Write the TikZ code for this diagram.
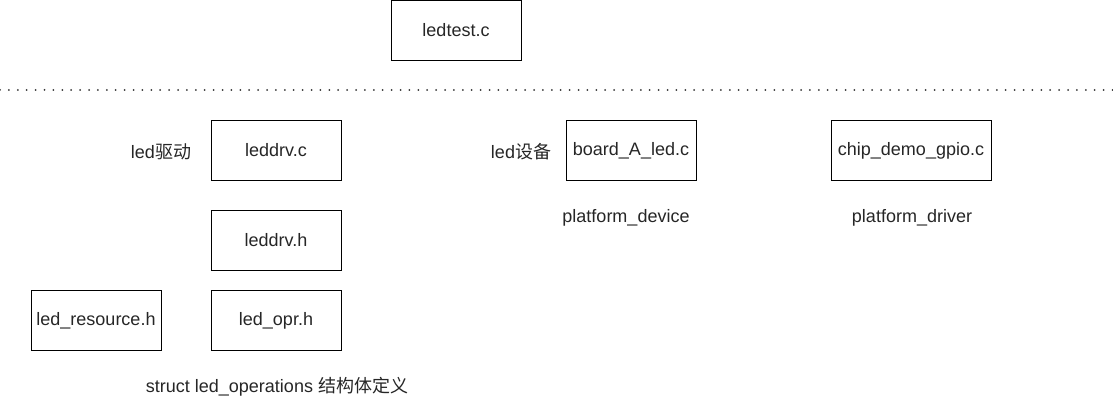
\documentclass[tikz,border=0pt]{standalone}
\usepackage{fontspec}
\setmainfont{Liberation Sans}
\newfontfamily\cjk{Noto Sans CJK SC}
\begin{document}
\begin{tikzpicture}[x=1pt,y=-1pt,
  box/.style={draw=black,line width=1pt,minimum width=130pt,minimum height=60pt,inner sep=0pt,text=black!85,font=\fontsize{18}{21}\selectfont},
  lbl/.style={inner sep=0pt,text=black!85,font=\fontsize{18}{21}\selectfont}]
\useasboundingbox (0,0) rectangle (1113,401);
\node[box] (ledtest) at (456,30.5) {ledtest.c};
\coordinate (dl) at (0,90);
\coordinate (dr) at (1113,90);
\draw[line width=2pt,line cap=round,dash pattern=on 0pt off 8.9pt,black!80] (dl) -- (dr);
\node[box] (leddrvc) at (276,150.5) {leddrv.c};
\node[box] (leddrvh) at (276,240.5) {leddrv.h};
\node[box] (ledopr) at (276,320.5) {led\_opr.h};
\node[box] (ledres) at (96,320.5) {led\_resource.h};
\node[box] (board) at (631,150.5) {board\_A\_led.c};
\node[box,minimum width=160pt] (chip) at (911,150.5) {chip\_demo\_gpio.c};
\node[lbl] (ldrv) at (161,151.5) {led{\cjk 驱动}};
\node[lbl] (ldev) at (521,151.5) {led{\cjk 设备}};
\node[lbl] (pdev) at (626,217.5) {platform\_device};
\node[lbl] (pdrv) at (912,217.5) {platform\_driver};
\node[lbl] (sop) at (277,386.5) {struct led\_operations {\cjk 结构体定义}};
\end{tikzpicture}
\end{document}
